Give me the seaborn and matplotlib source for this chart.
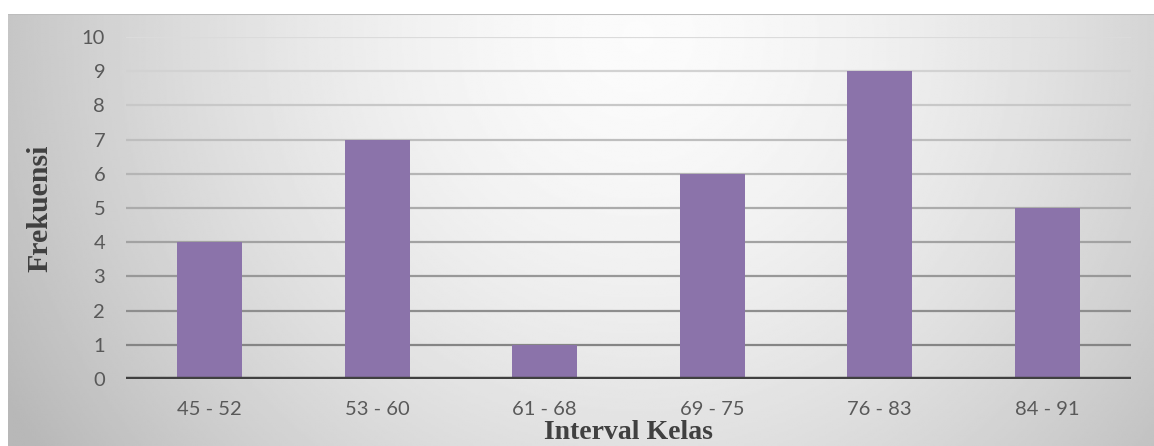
import numpy as np
import pandas as pd
import matplotlib
matplotlib.use("Agg")
import matplotlib.pyplot as plt
import seaborn as sns

# Frequency distribution by class interval
intervals = ["45 - 52", "53 - 60", "61 - 68", "69 - 75", "76 - 83", "84 - 91"]
frequencies = [4, 7, 1, 6, 9, 5]
y_ticks = list(range(0, 11))

sns.set_theme(style="white")
plt.rcParams["font.family"] = ["Lato", "DejaVu Sans"]

W, H = 1154, 446
fig = plt.figure(figsize=(W / 100, H / 100), dpi=100)
fig.patch.set_facecolor("white")

# Gradient backdrop panel
bg = fig.add_axes([8 / W, 0, 1 - 8 / W, 1 - 14 / H], zorder=0)
gx = np.linspace(0, 1, 600)
gy = np.linspace(0, 1, 240)
XX, YY = np.meshgrid(gx, gy)
dist = np.sqrt(((XX - 0.55) / 0.6) ** 2 + ((YY - 0.05) / 1.6) ** 2)
shade = 0.985 - 0.24 * np.clip(dist, 0, 1.2) ** 1.6
shade = np.clip(shade, 0.72, 1.0)
bg.imshow(shade, cmap="gray", vmin=0, vmax=1, aspect="auto",
          extent=[0, 1, 0, 1], origin="upper", interpolation="bilinear")
bg.axhline(1, color="#bdbdbd", lw=1.5)
bg.set_axis_off()

ax = fig.add_axes([126 / W, 1 - 379 / H, (1131 - 126) / W, (379 - 37) / H], zorder=1)
ax.patch.set_alpha(0)

df = pd.DataFrame({"Interval": intervals, "Frekuensi": frequencies})
sns.barplot(data=df, x="Interval", y="Frekuensi", color="#8b73aa",
            saturation=1, width=0.39, linewidth=0, ax=ax, zorder=3)

# Gridlines, fading toward the top
for v in y_ticks[1:]:
    g = 0.52 + 0.34 * (v - 1) / 9
    ax.axhline(v, color=(g, g, g), lw=1.6, zorder=1)
ax.axhline(0, color="#404040", lw=3.2, zorder=4)

ax.set_ylim(0, 10)
ax.set_xlim(-0.5, len(intervals) - 0.5)
ax.set_yticks(y_ticks)
ax.tick_params(axis="both", length=0, labelsize=14.5, labelcolor="#595959")
ax.tick_params(axis="y", pad=15)
ax.tick_params(axis="x", pad=16)
for s in ax.spines.values():
    s.set_visible(False)

ax.set_xlabel("")
ax.set_ylabel("")
fig.text(40 / W, 1 - 208 / H, "Frekuensi", rotation=90, ha="center", va="center",
         family="Liberation Serif", fontweight="bold", fontsize=21.5, color="#404040")
fig.text(628 / W, 1 / H, "Interval Kelas", ha="center", va="bottom",
         family="Liberation Serif", fontweight="bold", fontsize=20, color="#404040")

fig.savefig("out.png", dpi=100)
